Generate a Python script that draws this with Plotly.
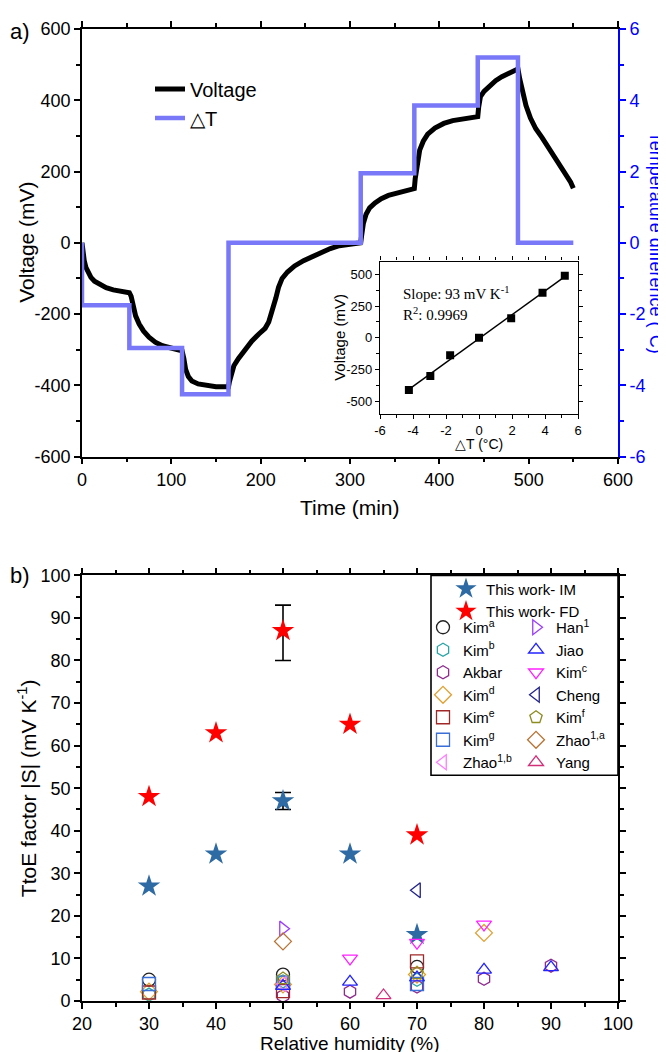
import numpy as np
import plotly.graph_objects as go

# ---------------- Panel a data ----------------
time_min = [0, 1, 2.5, 4.5, 7, 10, 14, 20, 27, 35, 44, 53,
            55, 57, 60, 64, 69, 75, 82, 90, 100, 108, 112,
            114, 116, 119, 123, 130, 140, 150, 158, 164,
            165, 167, 170, 175, 182, 190, 198, 205, 209, 212, 214, 217, 220, 224, 230, 238, 248,
            258, 268, 278, 288, 298, 308, 312,
            313, 315, 318, 322, 328, 335, 343, 352, 362, 372,
            373, 375, 378, 382, 387, 395, 405, 415, 425, 435, 443,
            444, 446, 450, 456, 463, 470, 478, 485, 488,
            490, 493, 497, 502, 508, 515, 523, 531, 540, 547, 550]
voltage_mV = [0, -25, -50, -70, -85, -97, -108, -118, -126, -132, -137, -140,
              -150, -175, -205, -228, -248, -265, -279, -289, -296, -300, -303,
              -325, -355, -375, -388, -396, -401, -404, -404, -404,
              -390, -365, -345, -325, -300, -276, -256, -240, -222, -200, -175, -155, -125, -100,
              -82, -65, -50, -38, -27, -16, -8, -4, -2, 0,
              20, 55, 80, 98, 112, 124, 133, 140, 146, 152,
              180, 220, 260, 285, 305, 322, 335, 343, 348, 351, 354,
              380, 410, 425, 440, 455, 466, 475, 482, 488,
              460, 420, 385, 350, 320, 295, 265, 235, 200, 170, 153]
dT_time = [0, 0, 53, 112, 164, 312, 372, 443, 488, 550]
dT_C = [0, -1.75, -2.95, -4.25, 0, 1.95, 3.85, 5.2, 0, 0]

volt_ticks = [-600, -400, -200, 0, 200, 400, 600]
volt_ticktext = ["-600", "-400", "-200", "0", "200", "400", "600"]
temp_ticks = [-6, -4, -2, 0, 2, 4, 6]
temp_ticktext = ["-6", "-4", "-2", "0", "2", "4", "6"]

# inset
inset_dT = [-4.25, -2.95, -1.75, 0, 1.95, 3.85, 5.2]
inset_V = [-410, -300, -138, 0, 155, 355, 488]
inset_xticks = [-6, -4, -2, 0, 2, 4, 6]
inset_xticktext = ["-6", "-4", "-2", "0", "2", "4", "6"]
inset_yticks = [-500, -250, 0, 250, 500]
inset_yticktext = ["-500", "-250", "0", "250", "500"]

# ---------------- Panel b data ----------------
rh_im = [30, 40, 50, 60, 70]
s_im = [27, 34.5, 47, 34.5, 15.6]
rh_fd = [30, 40, 50, 60, 70]
s_fd = [48, 63, 87, 65, 39]
err_x = [50]
err_im_y = [47]
err_im_plus = [2]
err_im_minus = [2]
err_fd_y = [87]
err_fd_plus = [6]
err_fd_minus = [7]

lit_names = ["Kim<sup>a</sup>", "Kim<sup>b</sup>", "Akbar", "Kim<sup>d</sup>", "Kim<sup>e</sup>",
             "Kim<sup>g</sup>", "Zhao<sup>1,b</sup>",
             "Han<sup>1</sup>", "Jiao", "Kim<sup>c</sup>", "Cheng", "Kim<sup>f</sup>",
             "Zhao<sup>1,a</sup>", "Yang"]
lit_x = [[30, 50, 70], [30, 50, 70], [50, 60, 70, 80, 90], [30, 50, 70, 80], [30, 50, 70],
         [30, 50, 70], [50],
         [50], [50, 60, 70, 80, 90], [60, 70, 80], [70], [50, 70], [50], [65]]
lit_y = [[5, 6.2, 8], [1.5, 4.6, 5], [1.2, 2.2, 3.4, 5.2, 8.3], [2.2, 3.9, 6.2, 16], [2, 2.3, 9.3],
         [4, 4.3, 4], [4],
         [17], [3.5, 4.5, 5.5, 7.3, 7.9], [10, 13.7, 18], [26], [5.3, 6.5], [14], [1.3]]
lit_symbols = ["circle-open", "hexagon-open", "hexagon-open", "diamond-open", "square-open",
               "square-open", "triangle-left-open",
               "triangle-right-open", "triangle-up-open", "triangle-down-open", "triangle-left-open",
               "pentagon-open", "diamond-open", "triangle-up-open"]
lit_colors = ["#222222", "#2AA5A5", "#8E2C8E", "#E0A030", "#A02828", "#3A6FD8", "#FF7CFF",
              "#9A3CFF", "#2424FF", "#FF22FF", "#22228A", "#8C8C20", "#B87333", "#D0307A"]

W, H = 666, 1052
L, R, T, B = 74, 56, 11, 59
PW = W - L - R
PH = H - T - B


def px(xp):
    return (xp - L) / PW


def py(yp):
    return (H - B - yp) / PH


fig = go.Figure()

# Panel a
fig.add_trace(go.Scatter(x=time_min, y=voltage_mV, mode="lines", name="Voltage",
                         line=dict(color="black", width=5), xaxis="x", yaxis="y", legend="legend"))
fig.add_trace(go.Scatter(x=dT_time, y=dT_C, mode="lines", name="△T", line_shape="hv",
                         line=dict(color="#7878F8", width=4.5), xaxis="x", yaxis="y2",
                         legend="legend"))

# Inset
coef = np.polyfit(inset_dT, inset_V, 1)
fit_x = [min(inset_dT), max(inset_dT)]
fit_y = [coef[0] * v + coef[1] for v in fit_x]
fig.add_trace(go.Scatter(x=fit_x, y=fit_y, mode="lines", line=dict(color="black", width=1.5),
                         xaxis="x3", yaxis="y4", showlegend=False))
fig.add_trace(go.Scatter(x=inset_dT, y=inset_V, mode="markers",
                         marker=dict(symbol="square", color="black", size=8),
                         xaxis="x3", yaxis="y4", showlegend=False))

# Panel b
fig.add_trace(go.Scatter(x=err_x, y=err_im_y, mode="markers", marker=dict(opacity=0, size=2),
                         error_y=dict(type="data", array=err_im_plus, arrayminus=err_im_minus,
                                      color="black", thickness=1.6, width=8),
                         xaxis="x2", yaxis="y3", showlegend=False))
fig.add_trace(go.Scatter(x=err_x, y=err_fd_y, mode="markers", marker=dict(opacity=0, size=2),
                         error_y=dict(type="data", array=err_fd_plus, arrayminus=err_fd_minus,
                                      color="black", thickness=1.6, width=8),
                         xaxis="x2", yaxis="y3", showlegend=False))
fig.add_trace(go.Scatter(x=rh_im, y=s_im, mode="markers", name="This work- IM",
                         marker=dict(symbol="star", color="#2E6BA4", size=17),
                         xaxis="x2", yaxis="y3", legend="legend2"))
fig.add_trace(go.Scatter(x=rh_fd, y=s_fd, mode="markers", name="This work- FD",
                         marker=dict(symbol="star", color="#FF0000", size=17),
                         xaxis="x2", yaxis="y3", legend="legend2"))
for i, nm in enumerate(lit_names):
    fig.add_trace(go.Scatter(x=lit_x[i], y=lit_y[i], mode="markers", name=nm,
                             marker=dict(symbol=lit_symbols[i], size=13,
                                         color=lit_colors[i],
                                         line=dict(color=lit_colors[i], width=1.3)),
                             xaxis="x2", yaxis="y3",
                             legend="legend3" if i < 7 else "legend4"))

font_main = "Liberation Sans, Arial, sans-serif"
tickf = dict(family=font_main, size=18, color="black")

common = dict(showline=True, linecolor="black", linewidth=1.6, ticks="outside", ticklen=6,
              tickwidth=1.6, tickcolor="black", showgrid=False, zeroline=False,
              tickfont=tickf)

yA = [py(443), py(11)]
yB = [0, py(563)]

fig.update_layout(
    width=W, height=H, margin=dict(l=L, r=R, t=T, b=B),
    paper_bgcolor="white", plot_bgcolor="white",
    font=dict(family=font_main, color="black"),
    xaxis=dict(domain=[0, 1], anchor="y", range=[0, 600], dtick=100, mirror="ticks",
               minor=dict(dtick=50, ticklen=4, tickwidth=1.6, tickcolor="black", ticks="outside"),
               **common),
    yaxis=dict(domain=yA, anchor="x", range=[-600, 600], tickvals=volt_ticks,
               ticktext=volt_ticktext, mirror=False,
               minor=dict(dtick=100, ticklen=4, tickwidth=1.6, tickcolor="black", ticks="outside"),
               **common),
    yaxis2=dict(overlaying="y", side="right", anchor="x", range=[-6, 6], tickvals=temp_ticks,
                ticktext=temp_ticktext,
                showline=True, linecolor="#0000FF", linewidth=1.6, ticks="outside", ticklen=6,
                tickwidth=1.6, tickcolor="#0000FF", showgrid=False, zeroline=False,
                tickfont=dict(family=font_main, size=18, color="#0000FF"),
                minor=dict(dtick=1, ticklen=4, tickwidth=1.6, tickcolor="#0000FF", ticks="outside")),
    xaxis2=dict(domain=[0, 1], anchor="y3", range=[20, 100], dtick=10, mirror="ticks",
                minor=dict(dtick=5, ticklen=4, tickwidth=1.6, tickcolor="black", ticks="outside"),
                **common),
    yaxis3=dict(domain=yB, anchor="x2", range=[0, 100], dtick=10, mirror="ticks",
                minor=dict(dtick=5, ticklen=4, tickwidth=1.6, tickcolor="black", ticks="outside"),
                **common),
    xaxis3=dict(domain=[px(372), px(570)], anchor="y4", range=[-6, 6], tickvals=inset_xticks,
                ticktext=inset_xticktext, mirror="ticks",
                showline=True, linecolor="black", linewidth=1.3, ticks="outside", ticklen=4,
                tickwidth=1.2, tickcolor="black", showgrid=False, zeroline=False,
                tickfont=dict(family=font_main, size=13, color="black"),
                minor=dict(dtick=1, ticklen=3, tickwidth=1.2, tickcolor="black", ticks="outside")),
    yaxis4=dict(domain=[py(400), py(246)], anchor="x3", range=[-600, 600],
                tickvals=inset_yticks, ticktext=inset_yticktext, mirror="ticks",
                showline=True, linecolor="black", linewidth=1.3, ticks="outside", ticklen=4,
                tickwidth=1.2, tickcolor="black", showgrid=False, zeroline=False,
                tickfont=dict(family=font_main, size=13, color="black"),
                minor=dict(tickvals=[-375, -125, 125, 375], ticklen=3, tickwidth=1.2,
                           tickcolor="black", ticks="outside")),
    legend=dict(x=px(142), y=py(52), xanchor="left", yanchor="top", bgcolor="rgba(0,0,0,0)",
                font=dict(family=font_main, size=20), tracegroupgap=0),
    legend2=dict(x=px(438), y=py(560), xanchor="left", yanchor="top", bgcolor="rgba(0,0,0,0)",
                 font=dict(family=font_main, size=15), tracegroupgap=0),
    legend3=dict(x=px(415), y=py(599), xanchor="left", yanchor="top", bgcolor="rgba(0,0,0,0)",
                 font=dict(family=font_main, size=15), tracegroupgap=0),
    legend4=dict(x=px(508), y=py(599), xanchor="left", yanchor="top", bgcolor="rgba(0,0,0,0)",
                 font=dict(family=font_main, size=15), tracegroupgap=0),
    showlegend=True,
)

# legend frame for panel b
fig.add_shape(type="rect", xref="paper", yref="paper", x0=px(423), x1=1.0, y0=py(765), y1=py(563),
              line=dict(color="black", width=1.6), fillcolor="rgba(0,0,0,0)")

C = dict(xanchor="center", yanchor="middle", showarrow=False, xref="paper", yref="paper")
serif = "Liberation Serif, Times New Roman, serif"
ann = [
    dict(text="a)", x=px(0), y=py(14), xref="paper", yref="paper", xanchor="left",
         yanchor="middle", showarrow=False, font=dict(size=22)),
    dict(text="b)", x=px(0), y=py(563), xref="paper", yref="paper", xanchor="left",
         yanchor="middle", showarrow=False, font=dict(size=22)),
    dict(text="Voltage (mV)", x=px(19), y=(yA[0] + yA[1]) / 2, textangle=-90,
         font=dict(size=21), **C),
    dict(text="Temperature difference (°C)", x=px(648), y=(yA[0] + yA[1]) / 2, textangle=90,
         font=dict(size=18, color="#0000FF"), **C),
    dict(text="Time (min)", x=0.5, y=py(494), font=dict(size=21), **C),
    dict(text="TtoE factor |S| (mV K<sup>-1</sup>)", x=px(19), y=(yB[0] + yB[1]) / 2,
         textangle=-90, font=dict(size=21), **C),
    dict(text="Relative humidity (%)", x=0.5, y=py(1036), font=dict(size=19), **C),
    dict(text="Slope: 93 mV K<sup>-1</sup>", x=px(393), y=py(278), xref="paper",
         yref="paper", xanchor="left", yanchor="middle", showarrow=False,
         font=dict(family=serif, size=15)),
    dict(text="R<sup>2</sup>: 0.9969", x=px(393), y=py(299), xref="paper", yref="paper",
         xanchor="left", yanchor="middle", showarrow=False, font=dict(family=serif, size=15)),
    dict(text="Voltage (mV)", x=px(332), y=py(323), textangle=-90, font=dict(size=15), **C),
    dict(text="△T (°C)", x=px(471), y=py(430), font=dict(size=14), **C),
]
fig.update_layout(annotations=ann)

fig.write_html("out.html")
